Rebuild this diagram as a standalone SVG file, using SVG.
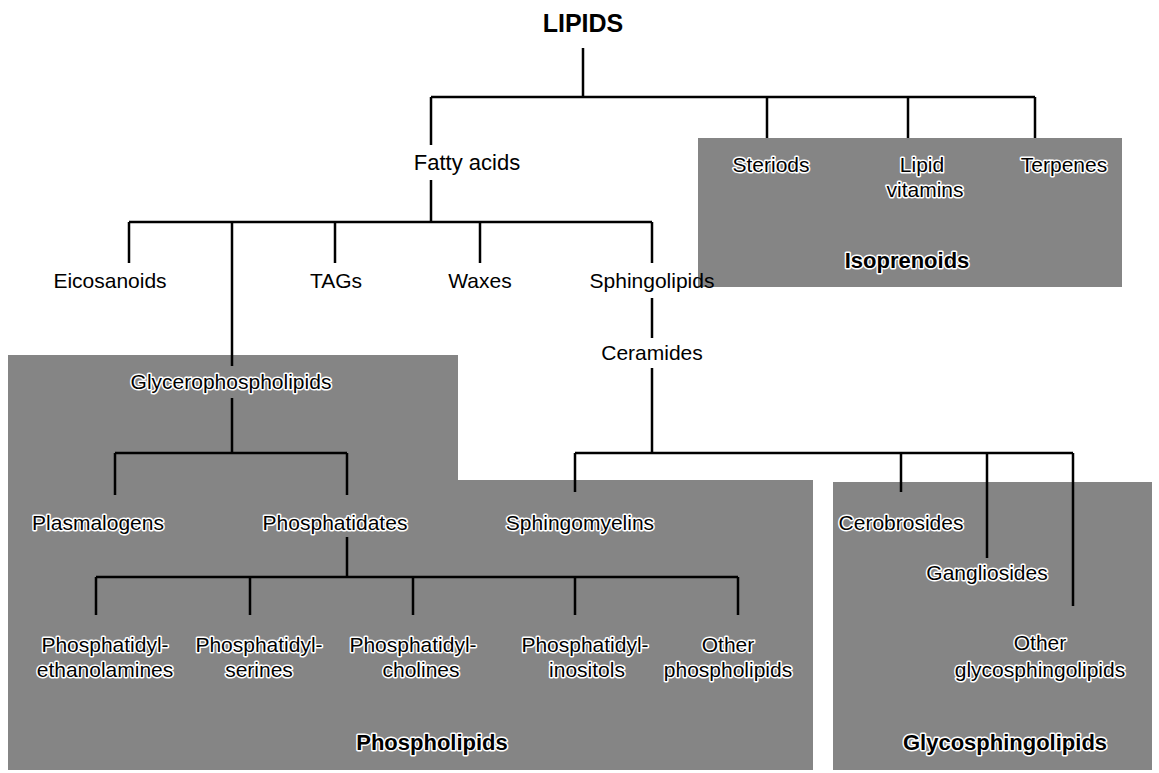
<svg xmlns="http://www.w3.org/2000/svg" width="1159" height="773" viewBox="0 0 1159 773">
<defs>
<style>
.t{font-family:"Liberation Sans",Arial,sans-serif;font-size:21px;fill:#000;text-anchor:middle}
.b{font-weight:bold;font-size:22px}
.h{stroke:#fff;stroke-width:3px;paint-order:stroke;stroke-linejoin:round}
.ln{stroke:#000;stroke-width:2.5;fill:none}
.box{fill:#858585}
</style>
</defs>
<rect width="1159" height="773" fill="#fff"/>
<g id="regions">
<rect id="isoprenoids-box" class="box" x="698" y="138" width="424" height="149"/>
<path id="phospholipids-box" class="box" d="M8,355 H458 V480 H813 V770 H8 Z"/>
<rect id="glyco-box" class="box" x="833" y="482" width="319" height="288"/>
</g>
<g id="connectors" class="ln">
<path d="M583,48 V97 M431,97 H1035 M431,97 V145 M767,97 V138 M908,97 V138 M1035,97 V138"/>
<path d="M431,180 V222 M129,222 H652 M129,222 V263 M232,222 V366 M335,222 V263 M480,222 V263 M652,222 V263"/>
<path d="M652,298 V338 M652,368 V453 M575,453 H1073 M575,453 V492 M901,453 V492 M987,453 V558 M1073,453 V606"/>
<path d="M232,398 V453 M115,453 H347 M115,453 V495 M347,453 V495 M347,537 V577 M96,577 H738 M96,577 V615 M250,577 V615 M413,577 V615 M575,577 V615 M738,577 V615"/>
</g>
<g id="n-lipids"><text class="t b" x="583" y="32" style="font-size:25px">LIPIDS</text></g>
<g id="n-fatty"><text class="t" x="467" y="170" style="font-size:22px">Fatty acids</text></g>
<g id="n-steriods"><text class="t h" x="771" y="172">Steriods</text></g>
<g id="n-lipidvit"><text class="t h" x="922" y="172">Lipid</text><text class="t h" x="925" y="197">vitamins</text></g>
<g id="n-terpenes"><text class="t h" x="1064" y="172">Terpenes</text></g>
<g id="n-isoprenoids"><text class="t b h" x="907" y="268">Isoprenoids</text></g>
<g id="n-eicosanoids"><text class="t" x="110" y="288">Eicosanoids</text></g>
<g id="n-tags"><text class="t" x="336" y="288">TAGs</text></g>
<g id="n-waxes"><text class="t" x="480" y="288">Waxes</text></g>
<g id="n-sphingolipids"><text class="t" x="652" y="288">Sphingolipids</text></g>
<g id="n-ceramides"><text class="t" x="652" y="360">Ceramides</text></g>
<g id="n-glycero"><text class="t h" x="231" y="389">Glycerophospholipids</text></g>
<g id="n-plasmalogens"><text class="t h" x="98" y="530">Plasmalogens</text></g>
<g id="n-phosphatidates"><text class="t h" x="335" y="530">Phosphatidates</text></g>
<g id="n-sphingomyelins"><text class="t h" x="580" y="530">Sphingomyelins</text></g>
<g id="n-cerobrosides"><text class="t h" x="901" y="530">Cerobrosides</text></g>
<g id="n-gangliosides"><text class="t h" x="987" y="580">Gangliosides</text></g>
<g id="n-otherglyco"><text class="t h" x="1040" y="650">Other</text><text class="t h" x="1040" y="677">glycosphingolipids</text></g>
<g id="n-pe"><text class="t h" x="105" y="652">Phosphatidyl-</text><text class="t h" x="105" y="677">ethanolamines</text></g>
<g id="n-ps"><text class="t h" x="259" y="652">Phosphatidyl-</text><text class="t h" x="259" y="677">serines</text></g>
<g id="n-pc"><text class="t h" x="413" y="652">Phosphatidyl-</text><text class="t h" x="421" y="677">cholines</text></g>
<g id="n-pi"><text class="t h" x="585" y="652">Phosphatidyl-</text><text class="t h" x="587" y="677">inositols</text></g>
<g id="n-op"><text class="t h" x="728" y="652">Other</text><text class="t h" x="728" y="677">phospholipids</text></g>
<g id="n-phospholipids"><text class="t b h" x="432" y="750">Phospholipids</text></g>
<g id="n-glycosphingolipids"><text class="t b h" x="1005" y="750">Glycosphingolipids</text></g>
</svg>
